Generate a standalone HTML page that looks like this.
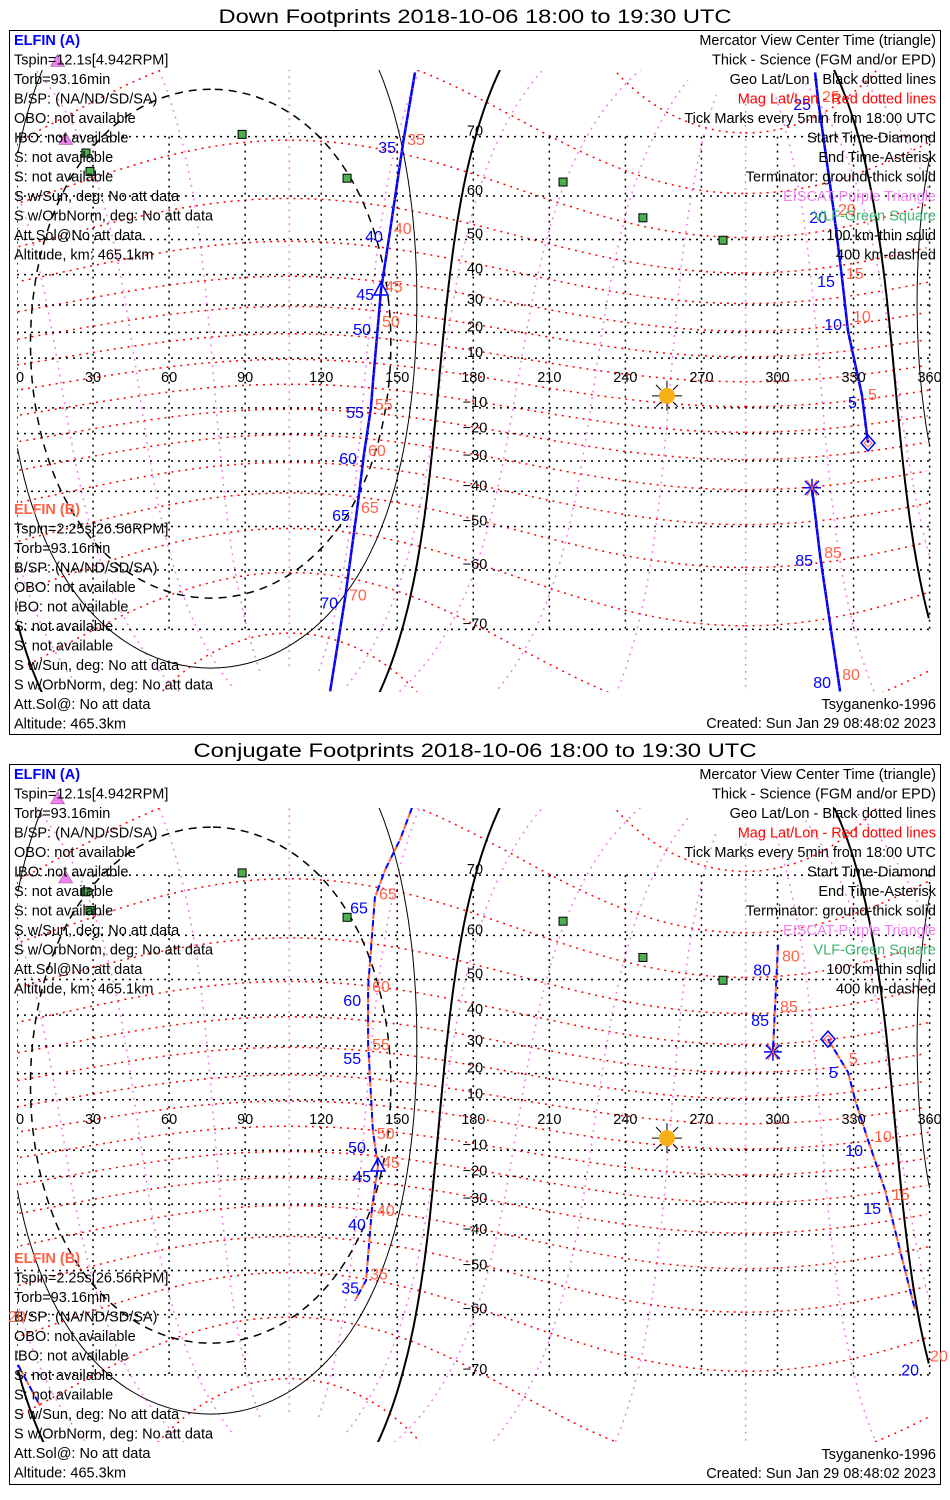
<!DOCTYPE html>
<html><head><meta charset="utf-8"><title>ELFIN Footprints</title>
<style>
html,body{margin:0;padding:0;background:#fff;width:950px;height:1500px;overflow:hidden;}
svg{display:block;font-family:"Liberation Sans",sans-serif;overflow:hidden;}
</style></head>
<body>
<svg id="chart" width="950" height="1500" viewBox="0 0 950 1500" xmlns="http://www.w3.org/2000/svg"></svg>
<script>
// ---------- data ----------
const lonTicks = [0,30,60,90,120,150,180,210,240,270,300,330,360];
const latTicks = [70,60,50,40,30,20,10,-10,-20,-30,-40,-50,-60,-70];
const magLatLevels = [-80,-70,-60,-50,-40,-30,-20,-10,0,10,20,30,40,50,60,70,80];
const magLonLevels = [0,30,60,90,120,150,180,210,240,270,300,330];
const vlfLon = [88.8,27.2,28.8,130.2,215.4,246.9,278.5];
const vlfLat = [70.3,67.6,64.6,63.4,62.7,55.3,49.8];
const eiscatLon = [16.0,19.2];
const eiscatLat = [78.15,69.6];
const subsolarLon = 256.4;
const subsolarLat = -5.2;
const terminatorDist = [90,100.1,109.6];
// down footprints tracks
const downSeg1Lon = [157,152.3,147.1,143.6,142.4,140.4,139.6,136.9,134.1,129.4,123.5];
const downSeg1Lat = [77.2,69.1,51.9,35.1,22.8,0,-10,-27.5,-45.8,-65.3,-77];
const downSeg2Lon = [314.8,316,322.3,325.4,327.8,333.3,335.7];
const downSeg2Lat = [77.2,74.5,56.4,39.3,20.5,-4.8,-23.5];
const downSeg3Lon = [313.6,316.8,324.7];
const downSeg3Lat = [-38.9,-57,-77];
const downTickMin = [35,40,45,50,55,60,65,70,25,20,15,10,5,85,80];
const downTickLon = [152.3,147.1,143.6,142.4,139.6,136.9,134.1,129.4,316,322.3,325.4,328.2,334.1,316.8,323.9];
const downTickLat = [69.1,51.9,35.1,22.8,-10,-27.5,-45.8,-65.3,74.5,56.4,39.3,24.7,-6,-57,-75.7];
const downStart = [335.7,-23.5], downEnd = [313.6,-38.9], downCenter = [143.6,35.1];
// conjugate footprints tracks
const conjSeg1Lon = [155.8,151.1,145.2,141.2,138.5,138.5,140.4,142.4,140.0,137.7,133.3];
const conjSeg1Lat = [77.4,74.3,70.7,66.7,47.9,31.0,-2.4,-16.1,-31.7,-52.4,-57.1];
const conjSeg2Lon = [300.2,298.2];
const conjSeg2Lat = [58.1,27.9];
const conjSeg3Lon = [319.9,327.8,330.6,335.7,342.4,348.3,354.2,360.2];
const conjSeg3Lat = [32.3,20.6,10.0,-6.0,-25.0,-44.4,-58.9,-68.9];
const conjSeg4Lon = [0.4,9.1];
const conjSeg4Lat = [-68.6,-73.8];
const conjTickMin = [65,60,55,50,45,40,35,80,85,5,10,15,20];
const conjTickLon = [141.2,138.5,138.5,140.4,142.4,140.4,137.7,300.2,299.4,326.6,336.5,343.6,358.6];
const conjTickLat = [66.7,47.2,29.3,-4.8,-16.1,-33.3,-51.7,54.8,41.5,24.3,-6,-27.9,-67.8];
const conjStart = [319.9,32.3], conjEnd = [298.2,27.9], conjCenter = [142.4,-16.1];

const leftA = ["Tspin=12.1s[4.942RPM]","Torb=93.16min","B/SP: (NA/ND/SD/SA)","OBO: not available","IBO: not available","S: not available","S: not available","S w/Sun, deg: No att data","S w/OrbNorm, deg: No att data","Att.Sol@No att data","Altitude, km: 465.1km"];
const leftB = ["Tspin=2.25s[26.56RPM]","Torb=93.16min","B/SP: (NA/ND/SD/SA)","OBO: not available","IBO: not available","S: not available","S: not available","S w/Sun, deg: No att data","S w/OrbNorm, deg: No att data","Att.Sol@: No att data","Altitude: 465.3km"];
const rightLegend = [["Mercator View Center Time (triangle)","#000"],["Thick - Science (FGM and/or EPD)","#000"],["Geo Lat/Lon - Black dotted lines","#000"],["Mag Lat/Lon - Red dotted lines","#ff0000"],["Tick Marks every 5min from 18:00 UTC","#000"],["Start Time-Diamond","#000"],["End Time-Asterisk","#000"],["Terminator: ground-thick solid","#000"],["EISCAT-Purple Triangle","#ee82ee"],["VLF-Green Square","#3cb371"],["100 km-thin solid","#000"],["400 km-dashed","#000"]];

// ---------- helpers ----------
const NS = "http://www.w3.org/2000/svg";
const svg = document.getElementById('chart');
const D = Math.PI/180;
const FS = 14.5;
function mk(tag, attrs, parent){ const e=document.createElementNS(NS,tag); for(const k in attrs) e.setAttribute(k,attrs[k]); (parent||svg).appendChild(e); return e; }
const X = lon => 17 + lon*2.535;
function Y(cfg, lat){ lat=Math.max(-80,Math.min(80,lat)); return cfg.eq - cfg.R*Math.log(Math.tan(Math.PI/4 + lat*D/2)); }

function pathFromLL(cfg, pts){
  let d='', prev=null;
  for(const p of pts){
    let lon=((p[0]%360)+360)%360;
    if(p[0]===360) lon=360;
    const brk = prev===null || Math.abs(lon-prev)>180;
    d += (brk?'M':'L') + X(lon).toFixed(1)+','+Y(cfg,p[1]).toFixed(1)+' ';
    prev=lon;
  }
  return d;
}
const PL=80.5*D, PLN=287.4*D;
const zM=[Math.cos(PL)*Math.cos(PLN),Math.cos(PL)*Math.sin(PLN),Math.sin(PL)];
const xM=[Math.sin(PL)*Math.cos(PLN),Math.sin(PL)*Math.sin(PLN),-Math.cos(PL)];
const yM=[zM[1]*xM[2]-zM[2]*xM[1], zM[2]*xM[0]-zM[0]*xM[2], zM[0]*xM[1]-zM[1]*xM[0]];
function magToGeo(mlat, mlon){
  const a=Math.cos(mlat*D)*Math.cos(mlon*D), b=Math.cos(mlat*D)*Math.sin(mlon*D), c=Math.sin(mlat*D);
  const v=[0,1,2].map(i=>a*xM[i]+b*yM[i]+c*zM[i]);
  return [Math.atan2(v[1],v[0])/D, Math.asin(v[2])/D];
}
function destPoint(lat0, lon0, dist, az){
  const p1=lat0*D, l1=lon0*D, d=dist*D, t=az*D;
  const p2=Math.asin(Math.sin(p1)*Math.cos(d)+Math.cos(p1)*Math.sin(d)*Math.cos(t));
  const l2=l1+Math.atan2(Math.sin(t)*Math.sin(d)*Math.cos(p1), Math.cos(d)-Math.sin(p1)*Math.sin(p2));
  return [l2/D, p2/D];
}

function drawPanel(cfg){
  const g = mk('g',{}); 
  
  
  const t = mk('text',{x:475,y:cfg.titleY,'text-anchor':'middle','font-size':19,textLength:cfg.titleLen,lengthAdjust:'spacingAndGlyphs',fill:'#000'},g);
  t.textContent=cfg.title;
  
  
  const fr = mk('rect',{x:9.5,y:cfg.fy0+0.5,width:931,height:cfg.fy1-cfg.fy0,fill:'none',stroke:'#000','stroke-width':1},g);
  
  
  const cid='clip'+cfg.id;
  const cp=mk('clipPath',{id:cid},g); mk('rect',{x:17,y:cfg.my0,width:915,height:cfg.my1-cfg.my0},cp);
  const m = mk('g',{'clip-path':'url(#'+cid+')'},g);
  
  
  for(const ml of magLonLevels){
    const pts=[]; for(let la=-84; la<=84; la+=1) pts.push(magToGeo(la,ml));
    const p=mk('path',{d:pathFromLL(cfg,pts),fill:'none',stroke:'#ee82ee','stroke-width':1.5,'stroke-dasharray':'2,5'},m);
    
    
  }
  for(const ml of magLatLevels){
    const pts=[]; for(let lo=0; lo<=360; lo+=2) pts.push(magToGeo(ml,lo));
    const p=mk('path',{d:pathFromLL(cfg,pts),fill:'none',stroke:'#ff0000','stroke-width':1.5,'stroke-dasharray':'2,5'},m);
    
    
  }
  for(const la of latTicks){
    const y=Y(cfg,la);
    const l=mk('line',{x1:17,x2:930,y1:y,y2:y,stroke:'#000','stroke-width':1.5,'stroke-dasharray':'2,5'},m);
    
    
  }
  for(const lo of lonTicks){
    const x=X(lo);
    const l=mk('line',{x1:x,x2:x,y1:Y(cfg,70),y2:Y(cfg,-70),stroke:'#000','stroke-width':1.5,'stroke-dasharray':'2,5'},m);
    
    
  }
  terminatorDist.forEach((dist,i)=>{
    const pts=[]; for(let az=0; az<=360; az+=1) pts.push(destPoint(subsolarLat,subsolarLon,dist,az));
    const st = i===0?{'stroke-width':2}:(i===1?{'stroke-width':1}:{'stroke-width':1.5,'stroke-dasharray':'8,6'});
    const p=mk('path',Object.assign({d:pathFromLL(cfg,pts),fill:'none',stroke:'#000'},st),m);
    
    
  });
  for(const s of cfg.segs){
    const pts=s[0].map((lo,k)=>[lo,s[1][k]]);
    const d=pathFromLL(cfg,pts);
    const p1=mk('path',{d:d,fill:'none',stroke:'#0000ff','stroke-width':cfg.dashed?2:2.5,'stroke-dasharray':cfg.dashed?'7,5':'none'},m);
    
    
    const p2=mk('path',{d:d,fill:'none',stroke:'#ff6347','stroke-width':cfg.dashed?2:1,'stroke-dasharray':cfg.dashed?'5,7':'1,7','stroke-dashoffset':cfg.dashed?6:0},m);
    
    
  }
  cfg.tMin.forEach((mn,k)=>{
    const x=X(cfg.tLon[k]), y=Y(cfg,cfg.tLat[k]);
    const a=mk('text',{x:x-7,y:y+cfg.bdy+6,'text-anchor':'end','font-size':16,fill:'#0000ff'},g);
    a.textContent=mn;
    
    
    const b=mk('text',{x:x+4,y:y-4+6,'text-anchor':'start','font-size':16,fill:'#ff6347'},g);
    b.textContent=mn;
    
    
  });
  {const x=X(cfg.start[0]), y=Y(cfg,cfg.start[1]);
   const dm=mk('path',{d:`M${x},${y-8}L${x+7},${y}L${x},${y+8}L${x-7},${y}Z`,fill:'none',stroke:'#0000ff','stroke-width':1.5},g);
   
   
   mk('path',{d:`M${x},${y-4}L${x+4},${y}L${x},${y+4}L${x-4},${y}Z`,fill:'none',stroke:'#ff6347','stroke-width':1},g);}
  {const x=X(cfg.end[0]), y=Y(cfg,cfg.end[1]);
   const as=mk('path',{d:`M${x-9},${y}H${x+9}M${x},${y-9}V${y+9}M${x-7},${y-7}L${x+7},${y+7}M${x-7},${y+7}L${x+7},${y-7}`,stroke:'#0000ff','stroke-width':1.5},g);
   
   
   mk('path',{d:`M${x-5},${y-8}L${x+5},${y+8}M${x-5},${y+8}L${x+5},${y-8}`,stroke:'#ff6347','stroke-width':1},g);}
  {const x=X(cfg.center[0]), y=Y(cfg,cfg.center[1]);
   const tr=mk('path',{d:`M${x},${y-8}L${x+7},${y+5}L${x-7},${y+5}Z`,fill:'none',stroke:'#0000ff','stroke-width':1.5},g);
   
   }
  latTicks.forEach(la=>{
    const tx=mk('text',{x:475,y:Y(cfg,la)-1,'text-anchor':'middle','font-size':FS,fill:'#000'},g);
    tx.textContent=(la<0?'\u2212':'')+Math.abs(la);
    
    
  });
  lonTicks.forEach(lo=>{
    const tx=mk('text',{x:X(lo)+ (lo===0?3:0),y:Y(cfg,0)-1,'text-anchor':'middle','font-size':FS,fill:'#000'},g);
    tx.textContent=lo;
    
    
  });
  {const x=X(subsolarLon), y=Y(cfg,subsolarLat);
   const sg=mk('g',{},g);
   
   
   mk('path',{d:`M${x-15},${y}H${x+15}M${x},${y-15}V${y+15}M${x-11},${y-11}L${x-6},${y-6}M${x+11},${y-11}L${x+6},${y-6}M${x-11},${y+11}L${x-6},${y+6}M${x+11},${y+11}L${x+6},${y+6}`,stroke:'#000','stroke-width':1},sg);
   mk('circle',{cx:x,cy:y,r:8,fill:'#f7b015'},sg);}
  vlfLon.forEach((lo,k)=>{
    const x=X(lo), y=Y(cfg,vlfLat[k]);
    const r=mk('rect',{x:x-4,y:y-4,width:8,height:8,fill:'#4caf50',stroke:'#000','stroke-width':1},g);
    
    
  });
  eiscatLon.forEach((lo,k)=>{
    const x=X(lo), y=Y(cfg,eiscatLat[k]);
    const r=mk('path',{d:`M${x},${y-7}L${x+7},${y+5}L${x-7},${y+5}Z`,fill:'#ee82ee',stroke:'#a050a0','stroke-width':0.6},g);
    
    
  });
  const la=mk('text',{x:14,y:cfg.fy0+15,'font-size':FS,'font-weight':'bold',fill:'#0000ff'},g);
  la.textContent='ELFIN (A)';
  
  
  leftA.forEach((s,k)=>{
    const tx=mk('text',{x:14,y:cfg.fy0+34.5+k*19.5,'font-size':FS,fill:'#000'},g);
    tx.textContent=s;
    
    
  });
  const lb=mk('text',{x:14,y:cfg.bY,'font-size':FS,'font-weight':'bold',fill:'#ff6347'},g);
  lb.textContent='ELFIN (B)';
  
  
  leftB.forEach((s,k)=>{
    const tx=mk('text',{x:14,y:cfg.bY+19.5+k*19.5,'font-size':FS,fill:'#000'},g);
    tx.textContent=s;
    
    
  });
  rightLegend.forEach((r,k)=>{
    const tx=mk('text',{x:936,y:cfg.fy0+15+k*19.5,'text-anchor':'end','font-size':FS,fill:r[1]},g);
    tx.textContent=r[0];
    
    
  });
  const ts=mk('text',{x:936,y:cfg.fy1-25,'text-anchor':'end','font-size':FS,fill:'#000'},g);
  ts.textContent='Tsyganenko-1996';
  
  
  const cr=mk('text',{x:936,y:cfg.fy1-6,'text-anchor':'end','font-size':FS,fill:'#000'},g);
  cr.textContent='Created: Sun Jan 29 08:48:02 2023';
  
  
  if(cfg.extra){ const e=mk('text',{x:8,y:cfg.extra,'font-size':16,fill:'#ff6347'},g); e.textContent='20';
    
     }
}

drawPanel({id:1,name:'down-footprints-panel',title:'Down Footprints 2018-10-06 18:00 to 19:30 UTC',titleY:23,titleLen:513,
  fy0:30,fy1:734,my0:70,my1:692,eq:383,R:142,bY:514,bdy:4,dashed:false,
  segs:[[downSeg1Lon,downSeg1Lat],[downSeg2Lon,downSeg2Lat],[downSeg3Lon,downSeg3Lat]],
  tMin:downTickMin,tLon:downTickLon,tLat:downTickLat,start:downStart,end:downEnd,center:downCenter});
drawPanel({id:2,name:'conjugate-footprints-panel',title:'Conjugate Footprints 2018-10-06 18:00 to 19:30 UTC',titleY:757,titleLen:563,
  fy0:764,fy1:1484,my0:808,my1:1442,eq:1125,R:144,bY:1263,bdy:10,dashed:true,
  segs:[[conjSeg1Lon,conjSeg1Lat],[conjSeg2Lon,conjSeg2Lat],[conjSeg3Lon,conjSeg3Lat],[conjSeg4Lon,conjSeg4Lat]],
  tMin:conjTickMin,tLon:conjTickLon,tLat:conjTickLat,start:conjStart,end:conjEnd,center:conjCenter,extra:1322});
</script>
</body></html>
